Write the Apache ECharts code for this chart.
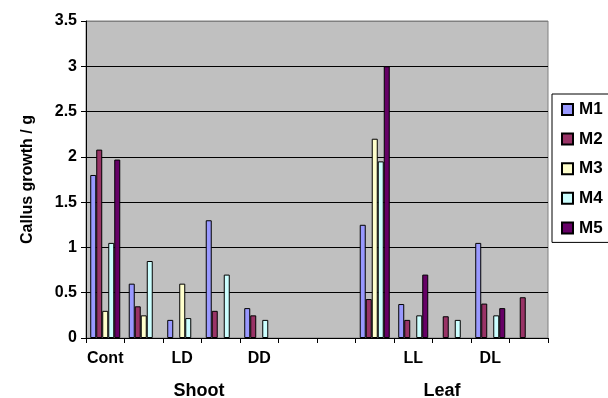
<!DOCTYPE html>
<html>
<head>
<meta charset="utf-8">
<script src="https://cdn.jsdelivr.net/npm/echarts@6/dist/echarts.min.js"></script>
<style>
  html, body { margin: 0; padding: 0; background: #ffffff; }
  #chart { width: 608px; height: 398px; }
</style>
</head>
<body>
<div id="chart"></div>
<script>
// Category slots along the x axis (only every other slot is labelled)
const categories = ['Cont', '', 'LD', '', 'DD', '', '', '', 'LL', '', 'DL', ''];

// Callus growth per medium (g); '-' marks an empty slot
const m1 = [1.80, 0.60, 0.20, 1.30, 0.33, '-', '-', 1.25, 0.375, '-', 1.05, '-'];
const m2 = [2.08, 0.35, '-', 0.30, 0.25, '-', '-', 0.43, 0.20, 0.24, 0.38, 0.45];
const m3 = [0.30, 0.25, 0.60, '-', '-', '-', '-', 2.20, '-', '-', '-', '-'];
const m4 = [1.05, 0.85, 0.22, 0.70, 0.20, '-', '-', 1.95, 0.25, 0.20, 0.25, '-'];
const m5 = [1.97, '-', '-', '-', '-', '-', '-', 3.00, 0.70, '-', 0.33, '-'];

const seriesNames = ['M1', 'M2', 'M3', 'M4', 'M5'];
const seriesColors = ['#9999FF', '#993366', '#FFFFCC', '#CCFFFF', '#660066'];
const seriesData = [m1, m2, m3, m4, m5];

// Group captions under the category labels
const groupNames = ['Shoot', 'Leaf'];

const FONT = '"Liberation Sans", Arial, sans-serif';

const chart = echarts.init(document.getElementById('chart'), null, { renderer: 'canvas' });

chart.setOption({
  backgroundColor: '#ffffff',
  animation: false,
  grid: {
    left: 86, right: 60, top: 21, bottom: 60,
    show: true,
    backgroundColor: '#C0C0C0',
    borderColor: '#808080',
    borderWidth: 1
  },
  legend: {
    orient: 'vertical',
    left: 552, top: 94,
    padding: [7, 10, 6, 9],
    itemWidth: 11, itemHeight: 11,
    itemGap: 12.6,
    backgroundColor: '#ffffff',
    borderColor: '#000000',
    borderWidth: 1,
    borderRadius: 0,
    icon: 'rect',
    textStyle: { fontFamily: FONT, fontWeight: 'bold', fontSize: 17, color: '#000', lineHeight: 16, padding: [0, 0, 0, 1] },
    data: seriesNames
  },
  xAxis: {
    type: 'category',
    data: categories,
    boundaryGap: true,
    axisLine: { lineStyle: { color: '#000', width: 1 } },
    axisTick: { show: true, length: 5, interval: 0, lineStyle: { color: '#000' } },
    axisLabel: { interval: 0, margin: 13, fontFamily: FONT, fontWeight: 'bold', fontSize: 16, color: '#000' },
    splitLine: { show: false }
  },
  yAxis: {
    type: 'value',
    min: 0, max: 3.5, interval: 0.5,
    name: 'Callus growth / g',
    nameLocation: 'middle',
    nameGap: 50,
    nameTextStyle: { fontFamily: FONT, fontWeight: 'bold', fontSize: 16, color: '#000' },
    axisLine: { show: true, lineStyle: { color: '#000', width: 1 } },
    axisTick: { show: true, length: 5, lineStyle: { color: '#000' } },
    axisLabel: { margin: 9, fontFamily: FONT, fontWeight: 'bold', fontSize: 16, color: '#000' },
    splitLine: {
      show: true,
      lineStyle: { color: ['#000', '#000', '#000', '#000', '#000', '#000', '#000', '#808080'], width: 1 }
    }
  },
  series: seriesNames.map((name, i) => ({
    name: name,
    type: 'bar',
    data: seriesData[i],
    barGap: '0%',
    barCategoryGap: '22%',
    itemStyle: { color: seriesColors[i], borderColor: '#000', borderWidth: 1 }
  })),
  graphic: [
    {
      type: 'text', x: 199, y: 391,
      style: { text: groupNames[0], font: 'bold 18px ' + FONT, fill: '#000', align: 'center', verticalAlign: 'middle' }
    },
    {
      type: 'text', x: 442, y: 391,
      style: { text: groupNames[1], font: 'bold 18px ' + FONT, fill: '#000', align: 'center', verticalAlign: 'middle' }
    }
  ]
});
</script>
</body>
</html>
